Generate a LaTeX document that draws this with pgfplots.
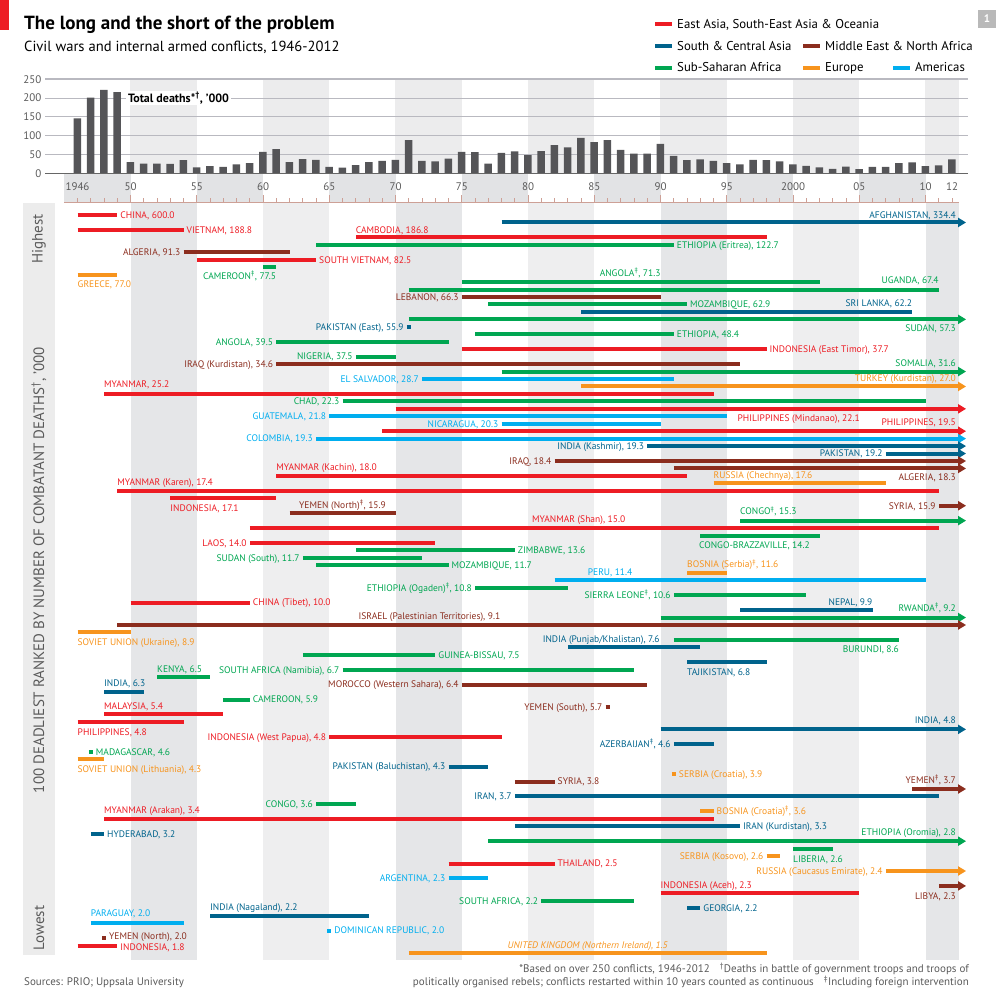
\documentclass[border=0pt]{standalone}
\usepackage{pgfplots}
\pgfplotsset{compat=1.18}
\usepackage{fontspec}
\setmainfont{PT Sans}
\usetikzlibrary{arrows.meta}
\definecolor{cEA}{RGB}{237,28,36}
\definecolor{cSCA}{RGB}{0,99,140}
\definecolor{cME}{RGB}{139,45,30}
\definecolor{cSSA}{RGB}{0,166,81}
\definecolor{cEU}{RGB}{247,148,29}
\definecolor{cAM}{RGB}{0,174,239}
\definecolor{bandA}{RGB}{229,230,232}
\definecolor{bandB}{RGB}{238,238,239}
\definecolor{bandT}{RGB}{236,236,237}
\definecolor{bandS}{RGB}{226,227,229}
\definecolor{barg}{RGB}{85,85,88}
\definecolor{gridc}{RGB}{185,185,192}
\definecolor{tickc}{RGB}{205,160,150}
\definecolor{txtg}{RGB}{90,90,90}
\tikzset{
  cb/.style={line width=4pt},
  EA/.style={cb,color=cEA}, SCA/.style={cb,color=cSCA}, ME/.style={cb,color=cME},
  SSA/.style={cb,color=cSSA}, EU/.style={cb,color=cEU}, AM/.style={cb,color=cAM},
  ar/.style={-{Triangle[length=8pt,width=9pt]}},
  lbl/.style={font=\fontsize{9.5}{10}\selectfont, inner sep=0pt, yshift=-3.3pt},
}
\newcommand\lR[4]{\node[lbl,text=#1,anchor=base west,xshift=3pt] at (axis cs:#2,#3) {#4};}
\newcommand\lL[4]{\node[lbl,text=#1,anchor=base east,xshift=-3pt] at (axis cs:#2,#3) {#4};}
\newcommand\lW[4]{\node[lbl,text=#1,anchor=base west] at (axis cs:#2,#3) {#4};}
\newcommand\lE[4]{\node[lbl,text=#1,anchor=base east] at (axis cs:#2,#3) {#4};}
\newcommand\lC[4]{\node[lbl,text=#1,anchor=base] at (axis cs:#2,#3) {#4};}
\newcommand\dg{\textsuperscript{‡}}
\begin{document}
\begin{tikzpicture}
\useasboundingbox (0pt,0pt) rectangle (1000pt,990pt);
% header
\fill[cEA] (0pt,960pt) rectangle (9pt,990pt);
\node[anchor=base west,inner sep=0pt] at (24pt,960pt) {\bfseries\fontsize{19}{21}\selectfont The long and the short of the problem};
\node[anchor=base west,inner sep=0pt] at (24pt,938.3pt) {\fontsize{14.6}{16}\selectfont Civil wars and internal armed conflicts, 1946-2012};
\fill[gray!55] (978pt,962pt) rectangle (996pt,980pt);
\node[text=white,font=\bfseries\fontsize{11}{12}\selectfont] at (987pt,971pt) {1};
% legend
\draw[cEA,line width=4pt] (655pt,966pt) -- (672pt,966pt);
\node[anchor=base west,inner sep=0pt] at (677pt,961.7pt) {\fontsize{12.8}{14}\selectfont East Asia, South-East Asia \& Oceania};
\draw[cSCA,line width=4pt] (655pt,944pt) -- (672pt,944pt);
\node[anchor=base west,inner sep=0pt] at (677pt,939.7pt) {\fontsize{12.8}{14}\selectfont South \& Central Asia};
\draw[cME,line width=4pt] (803pt,944pt) -- (820pt,944pt);
\node[anchor=base west,inner sep=0pt] at (825pt,939.7pt) {\fontsize{12.8}{14}\selectfont Middle East \& North Africa};
\draw[cSSA,line width=4pt] (655pt,922pt) -- (672pt,922pt);
\node[anchor=base west,inner sep=0pt] at (677pt,918pt) {\fontsize{12.8}{14}\selectfont Sub-Saharan Africa};
\draw[cEU,line width=4pt] (803pt,922pt) -- (820pt,922pt);
\node[anchor=base west,inner sep=0pt] at (825pt,918pt) {\fontsize{12.8}{14}\selectfont Europe};
\draw[cAM,line width=4pt] (893pt,922pt) -- (910pt,922pt);
\node[anchor=base west,inner sep=0pt] at (915pt,918pt) {\fontsize{12.8}{14}\selectfont Americas};
% strip under top chart
\foreach \a in {1945,1955,1965,1975,1985,1995,2005}
  \fill[bandS] ({77.5pt+(\a-1946)*13.25pt},788pt) rectangle ({77.5pt+(\a-1941)*13.25pt},816.7pt);
\draw[tickc,line width=0.8pt] (64pt,788pt) -- (959pt,788pt);
\foreach \i in {0,...,66} \draw[tickc,line width=0.7pt] ({77.5pt+\i*13.25pt},788pt) -- ++(0pt,4pt);
\foreach \i in {4,9,...,64} \draw[tickc,line width=0.7pt] ({77.5pt+\i*13.25pt},788pt) -- ++(0pt,7pt);
\foreach \p/\t in {77.5/1946,130.5/50,196.75/55,263/60,329.25/65,395.5/70,461.75/75,528/80,594.25/85,660.5/90,726.75/95,793/2000,859.25/05,925.5/10,952/12}
  \node[text=txtg,font=\fontsize{11}{12}\selectfont] at (\p pt,803pt) {\t};
% top chart
\begin{axis}[
  at={(45pt,816.7pt)}, anchor=south west, width=923pt, height=94pt, scale only axis,
  xmin=1943.55, xmax=2013.21, ymin=0, ymax=250, clip=false,
  axis line style={draw=none}, major tick length=0pt,
  xtick=\empty, ytick={0,50,100,150,200,250},
  yticklabel style={font=\fontsize{11}{12}\selectfont, text=txtg},
  /pgf/number format/assume math mode=true,
  ybar, bar width=7.5pt,
]
\foreach \a in {1950,1960,1970,1980,1990,2000} {\edef\tmp{\noexpand\fill[bandT] (axis cs:\a,0) rectangle (axis cs:\a+5,250);}\tmp}
\fill[bandT] (axis cs:2010,0) rectangle (axis cs:2012.5,250);
\draw[gridc,line width=0.9pt] (axis cs:1943.55,50) -- (axis cs:2013.21,50);
\draw[gridc,line width=0.9pt] (axis cs:1943.55,100) -- (axis cs:2013.21,100);
\draw[gridc,line width=0.9pt] (axis cs:1943.55,150) -- (axis cs:2013.21,150);
\draw[gridc,line width=0.9pt] (axis cs:1943.55,200) -- (axis cs:2013.21,200);
\draw[gridc,line width=1.6pt] (axis cs:1943.55,250) -- (axis cs:2013.21,250);
\addplot[fill=barg, draw=none] coordinates {
(1946,146) (1947,201) (1948,222) (1949,216) (1950,30) (1951,26) (1952,26) (1953,25) (1954,35)
(1955,16) (1956,19) (1957,17) (1958,24) (1959,27) (1960,57) (1961,64) (1962,30) (1963,38)
(1964,36) (1965,17) (1966,15) (1967,22) (1968,30) (1969,33) (1970,36) (1971,88) (1972,33)
(1973,32) (1974,39) (1975,57) (1976,56) (1977,26) (1978,54) (1979,58) (1980,48) (1981,59)
(1982,75) (1983,69) (1984,94) (1985,83) (1986,88) (1987,62) (1988,52) (1989,52) (1990,78)
(1991,46) (1992,35) (1993,37) (1994,33) (1995,27) (1996,24) (1997,36) (1998,35) (1999,32)
(2000,24) (2001,20) (2002,16) (2003,12) (2004,18) (2005,11) (2006,17) (2007,17) (2008,27)
(2009,29) (2010,19) (2011,21) (2012,37)};
\draw[black!60,line width=1pt] (axis cs:1943.55,0) -- (axis cs:2013.21,0);
\node[fill=white,inner xsep=2pt,inner ysep=1pt,anchor=west,font=\bfseries\fontsize{12}{14}\selectfont] at (axis cs:1949.65,200) {Total deaths*\textsuperscript{†}, ’000};
\end{axis}
% left strip
\fill[gray!15] (23pt,35pt) rectangle (55pt,787pt);
\node[rotate=90,text=txtg,font=\fontsize{15}{16}\selectfont] at (39pt,420pt) {100 DEADLIEST RANKED BY NUMBER OF COMBATANT DEATHS\textsuperscript{†}, ’000};
\node[rotate=90,text=txtg,font=\fontsize{15}{16}\selectfont] at (39pt,751pt) {Highest};
\node[rotate=90,text=txtg,font=\fontsize{15}{16}\selectfont] at (39pt,62pt) {Lowest};
% main chart
\begin{axis}[
  at={(64.25pt,787pt)}, anchor=north west, width=894.4pt, height=757pt, scale only axis,
  xmin=1945, xmax=2012.5, ymin=-0.61, ymax=100.94, y dir=reverse,
  hide axis, clip=false,
]
\fill[bandA] (axis cs:1950,-0.61) rectangle (axis cs:1955,100.94);
\fill[bandB] (axis cs:1960,-0.61) rectangle (axis cs:1965,100.94);
\fill[bandA] (axis cs:1970,-0.61) rectangle (axis cs:1975,100.94);
\fill[bandB] (axis cs:1980,-0.61) rectangle (axis cs:1985,100.94);
\fill[bandA] (axis cs:1990,-0.61) rectangle (axis cs:1995,100.94);
\fill[bandB] (axis cs:2000,-0.61) rectangle (axis cs:2005,100.94);
\fill[bandA] (axis cs:2010,-0.61) rectangle (axis cs:2012.5,100.94);
% bars
\addplot[EA] coordinates {(1946,1) (1949,1)};
\addplot[SCA,ar] coordinates {(1978,2) (2013.06,2)};
\addplot[EA] coordinates {(1946,3) (1954,3)};
\addplot[EA] coordinates {(1967,4) (1998,4)};
\addplot[SSA] coordinates {(1964,5) (1991,5)};
\addplot[ME] coordinates {(1954,6) (1962,6)};
\addplot[EA] coordinates {(1955,7) (1964,7)};
\addplot[SSA] coordinates {(1960,8) (1961,8)};
\addplot[EU] coordinates {(1946,9) (1949,9)};
\addplot[SSA] coordinates {(1975,10) (2002,10)};
\addplot[SSA] coordinates {(1971,11) (2011,11)};
\addplot[ME] coordinates {(1975,12) (1990,12)};
\addplot[SSA] coordinates {(1977,13) (1992,13)};
\addplot[SCA] coordinates {(1984,14) (2009,14)};
\addplot[SSA,ar] coordinates {(1971,15) (2013.06,15)};
\addplot[SCA] coordinates {(1970.85,16) (1971.15,16)};
\addplot[SSA] coordinates {(1976,17) (1991,17)};
\addplot[SSA] coordinates {(1961,18) (1974,18)};
\addplot[EA] coordinates {(1975,19) (1998,19)};
\addplot[SSA] coordinates {(1967,20) (1970,20)};
\addplot[ME] coordinates {(1961,21) (1996,21)};
\addplot[SSA,ar] coordinates {(1978,22) (2013.06,22)};
\addplot[AM] coordinates {(1972,23) (1991,23)};
\addplot[EU,ar] coordinates {(1984,24) (2013.06,24)};
\addplot[EA] coordinates {(1948,25) (1994,25)};
\addplot[SSA] coordinates {(1966,26) (2010,26)};
\addplot[EA,ar] coordinates {(1970,27) (2013.06,27)};
\addplot[AM] coordinates {(1965,28) (1995,28)};
\addplot[AM] coordinates {(1978,29) (1990,29)};
\addplot[EA,ar] coordinates {(1969,30) (2013.06,30)};
\addplot[AM,ar] coordinates {(1964,31) (2013.06,31)};
\addplot[SCA,ar] coordinates {(1989,32) (2013.06,32)};
\addplot[SCA,ar] coordinates {(2007,33) (2013.06,33)};
\addplot[ME,ar] coordinates {(1982,34) (2013.06,34)};
\addplot[ME,ar] coordinates {(1991,35) (2013.06,35)};
\addplot[EA] coordinates {(1961,36) (1992,36)};
\addplot[EU] coordinates {(1994,37) (2007,37)};
\addplot[EA] coordinates {(1949,38) (2011,38)};
\addplot[EA] coordinates {(1953,39) (1961,39)};
\addplot[ME,ar] coordinates {(2011,40) (2013.06,40)};
\addplot[ME] coordinates {(1962,41) (1970,41)};
\addplot[SSA,ar] coordinates {(1996,42) (2013.06,42)};
\addplot[EA] coordinates {(1959,43) (2011,43)};
\addplot[SSA] coordinates {(1993,44) (2002,44)};
\addplot[EA] coordinates {(1959,45) (1973,45)};
\addplot[SSA] coordinates {(1967,46) (1979,46)};
\addplot[SSA] coordinates {(1963,47) (1972,47)};
\addplot[SSA] coordinates {(1964,48) (1974,48)};
\addplot[EU] coordinates {(1992,49) (1995,49)};
\addplot[AM] coordinates {(1982,50) (2010,50)};
\addplot[SSA] coordinates {(1976,51) (1983,51)};
\addplot[SSA] coordinates {(1991,52) (2001,52)};
\addplot[EA] coordinates {(1950,53) (1959,53)};
\addplot[SCA] coordinates {(1996,54) (2006,54)};
\addplot[SSA,ar] coordinates {(1990,55) (2013.06,55)};
\addplot[ME,ar] coordinates {(1949,56) (2013.06,56)};
\addplot[EU] coordinates {(1946,57) (1950,57)};
\addplot[SSA] coordinates {(1991,58) (2008,58)};
\addplot[SCA] coordinates {(1983,59) (1993,59)};
\addplot[SSA] coordinates {(1963,60) (1973,60)};
\addplot[SCA] coordinates {(1992,61) (1998,61)};
\addplot[SSA] coordinates {(1966,62) (1988,62)};
\addplot[SSA] coordinates {(1952,63) (1956,63)};
\addplot[ME] coordinates {(1975,64) (1989,64)};
\addplot[SCA] coordinates {(1948,65) (1951,65)};
\addplot[SSA] coordinates {(1957,66) (1959,66)};
\addplot[ME] coordinates {(1985.85,67) (1986.15,67)};
\addplot[EA] coordinates {(1948,68) (1957,68)};
\addplot[EA] coordinates {(1946,69) (1954,69)};
\addplot[SCA,ar] coordinates {(1990,70) (2013.06,70)};
\addplot[EA] coordinates {(1965,71) (1978,71)};
\addplot[SCA] coordinates {(1991,72) (1994,72)};
\addplot[SSA] coordinates {(1946.85,73) (1947.15,73)};
\addplot[EU] coordinates {(1946,74) (1948,74)};
\addplot[SCA] coordinates {(1974,75) (1977,75)};
\addplot[EU] coordinates {(1990.85,76) (1991.15,76)};
\addplot[ME] coordinates {(1979,77) (1982,77)};
\addplot[ME,ar] coordinates {(2009,78) (2013.06,78)};
\addplot[SCA] coordinates {(1979,79) (2011,79)};
\addplot[SSA] coordinates {(1964,80) (1967,80)};
\addplot[EU] coordinates {(1993,81) (1994,81)};
\addplot[EA] coordinates {(1948,82) (1994,82)};
\addplot[SCA] coordinates {(1979,83) (1996,83)};
\addplot[SCA] coordinates {(1947,84) (1948,84)};
\addplot[SSA,ar] coordinates {(1977,85) (2013.06,85)};
\addplot[SSA] coordinates {(2000,86) (2003,86)};
\addplot[EU] coordinates {(1998,87) (1999,87)};
\addplot[EA] coordinates {(1974,88) (1982,88)};
\addplot[EU,ar] coordinates {(2007,89) (2013.06,89)};
\addplot[AM] coordinates {(1974,90) (1977,90)};
\addplot[ME,ar] coordinates {(2011,91) (2013.06,91)};
\addplot[EA] coordinates {(1990,92) (2005,92)};
\addplot[SSA] coordinates {(1981,93) (1988,93)};
\addplot[SCA] coordinates {(1992,94) (1993,94)};
\addplot[SCA] coordinates {(1956,95) (1968,95)};
\addplot[AM] coordinates {(1947,96) (1954,96)};
\addplot[AM] coordinates {(1964.85,97) (1965.15,97)};
\addplot[ME] coordinates {(1947.85,98) (1948.15,98)};
\addplot[EA] coordinates {(1946,99) (1949,99)};
\addplot[EU] coordinates {(1971,100) (1998,100)};
% labels
\lR{cEA}{1949}{1}{CHINA, 600.0}
\lE{cSCA}{2012.3}{1}{AFGHANISTAN, 334.4}
\lR{cEA}{1954}{3}{VIETNAM, 188.8}
\lW{cEA}{1967}{3}{CAMBODIA, 186.8}
\lR{cSSA}{1991}{5}{ETHIOPIA (Eritrea), 122.7}
\lL{cME}{1954}{6}{ALGERIA, 91.3}
\lR{cEA}{1964}{7}{SOUTH VIETNAM, 82.5}
\lE{cSSA}{1961}{9.25}{CAMEROON\dg, 77.5}
\lW{cEU}{1946}{10.25}{GREECE, 77.0}
\lW{cSSA}{1985.4}{8.8}{ANGOLA\dg, 71.3}
\lE{cSSA}{2011}{9.8}{UGANDA, 67.4}
\lL{cME}{1975}{12}{LEBANON, 66.3}
\lR{cSSA}{1992}{13}{MOZAMBIQUE, 62.9}
\lE{cSCA}{2009}{12.8}{SRI LANKA, 62.2}
\lE{cSSA}{2012.3}{16.25}{SUDAN, 57.3}
\lL{cSCA}{1970.85}{16}{PAKISTAN (East), 55.9}
\lR{cSSA}{1991}{17}{ETHIOPIA, 48.4}
\lL{cSSA}{1961}{18}{ANGOLA, 39.5}
\lR{cEA}{1998}{19}{INDONESIA (East Timor), 37.7}
\lL{cSSA}{1967}{20}{NIGERIA, 37.5}
\lL{cME}{1961}{21}{IRAQ (Kurdistan), 34.6}
\lE{cSSA}{2012.3}{20.85}{SOMALIA, 31.6}
\lL{cAM}{1972}{23}{EL SALVADOR, 28.7}
\lE{cEU}{2012.3}{22.85}{TURKEY (Kurdistan), 27.0}
\lW{cEA}{1948}{23.75}{MYANMAR, 25.2}
\lL{cSSA}{1966}{26}{CHAD, 22.3}
\lW{cEA}{1995.8}{28.3}{PHILIPPINES (Mindanao), 22.1}
\lL{cAM}{1965}{28}{GUATEMALA, 21.8}
\lL{cAM}{1978}{29}{NICARAGUA, 20.3}
\lE{cEA}{2012.3}{28.8}{PHILIPPINES, 19.5}
\lL{cAM}{1964}{31}{COLOMBIA, 19.3}
\lL{cSCA}{1989}{32}{INDIA (Kashmir), 19.3}
\lL{cSCA}{2007}{33}{PAKISTAN, 19.2}
\lL{cME}{1982}{34}{IRAQ, 18.4}
\lE{cME}{2012.3}{36.15}{ALGERIA, 18.3}
\lW{cEA}{1961}{34.8}{MYANMAR (Kachin), 18.0}
\lW{cEU}{1994}{35.9}{RUSSIA (Chechnya), 17.6}
\lW{cEA}{1949}{36.8}{MYANMAR (Karen), 17.4}
\lW{cEA}{1953}{40.3}{INDONESIA, 17.1}
\lL{cME}{2011}{40}{SYRIA, 15.9}
\lC{cME}{1966}{39.95}{YEMEN (North)\dg, 15.9}
\lW{cSSA}{1996}{40.8}{CONGO\dg, 15.3}
\lW{cEA}{1980.3}{41.8}{MYANMAR (Shan), 15.0}
\lW{cSSA}{1992.9}{45.3}{CONGO-BRAZZAVILLE, 14.2}
\lL{cEA}{1959}{45}{LAOS, 14.0}
\lR{cSSA}{1979}{46}{ZIMBABWE, 13.6}
\lL{cSSA}{1963}{47}{SUDAN (South), 11.7}
\lR{cSSA}{1974}{48}{MOZAMBIQUE, 11.7}
\lW{cEU}{1992}{47.9}{BOSNIA (Serbia)\dg, 11.6}
\lW{cAM}{1984.5}{48.95}{PERU, 11.4}
\lL{cSSA}{1976}{51}{ETHIOPIA (Ogaden)\dg, 10.8}
\lL{cSSA}{1991}{52}{SIERRA LEONE\dg, 10.6}
\lR{cEA}{1959}{53}{CHINA (Tibet), 10.0}
\lE{cSCA}{2006}{52.9}{NEPAL, 9.9}
\lE{cSSA}{2012.3}{53.75}{RWANDA\dg, 9.2}
\lW{cME}{1967.2}{54.8}{ISRAEL (Palestinian Territories), 9.1}
\lW{cEU}{1946}{58.25}{SOVIET UNION (Ukraine), 8.9}
\lE{cSSA}{2008}{59.3}{BURUNDI, 8.6}
\lW{cSCA}{1981.1}{57.9}{INDIA (Punjab/Khalistan), 7.6}
\lR{cSSA}{1973}{60}{GUINEA-BISSAU, 7.5}
\lW{cSCA}{1992}{62.3}{TAJIKISTAN, 6.8}
\lL{cSSA}{1966}{62}{SOUTH AFRICA (Namibia), 6.7}
\lW{cSSA}{1952}{61.9}{KENYA, 6.5}
\lL{cME}{1975}{64}{MOROCCO (Western Sahara), 6.4}
\lW{cSCA}{1948}{63.8}{INDIA, 6.3}
\lR{cSSA}{1959}{66}{CAMEROON, 5.9}
\lL{cME}{1985.85}{67}{YEMEN (South), 5.7}
\lW{cEA}{1948}{66.85}{MALAYSIA, 5.4}
\lW{cEA}{1946}{70.35}{PHILIPPINES, 4.8}
\lE{cSCA}{2012.3}{68.75}{INDIA, 4.8}
\lL{cEA}{1965}{71}{INDONESIA (West Papua), 4.8}
\lL{cSCA}{1991}{72}{AZERBAIJAN\dg, 4.6}
\lR{cSSA}{1947.15}{73}{MADAGASCAR, 4.6}
\lW{cEU}{1946}{75.35}{SOVIET UNION (Lithuania), 4.3}
\lL{cSCA}{1974}{75}{PAKISTAN (Baluchistan), 4.3}
\lR{cEU}{1991.15}{76}{SERBIA (Croatia), 3.9}
\lR{cME}{1982}{77}{SYRIA, 3.8}
\lE{cME}{2012.3}{76.8}{YEMEN\dg, 3.7}
\lL{cSCA}{1979}{79}{IRAN, 3.7}
\lL{cSSA}{1964}{80}{CONGO, 3.6}
\lR{cEU}{1994}{81}{BOSNIA (Croatia)\dg, 3.6}
\lW{cEA}{1948}{80.85}{MYANMAR (Arakan), 3.4}
\lR{cSCA}{1996}{83}{IRAN (Kurdistan), 3.3}
\lR{cSCA}{1948}{84}{HYDERABAD, 3.2}
\lE{cSSA}{2012.3}{83.8}{ETHIOPIA (Oromia), 2.8}
\lW{cSSA}{2000}{87.35}{LIBERIA, 2.6}
\lL{cEU}{1998}{87}{SERBIA (Kosovo), 2.6}
\lR{cEA}{1982}{88}{THAILAND, 2.5}
\lL{cEU}{2007}{89}{RUSSIA (Caucasus Emirate), 2.4}
\lL{cAM}{1974}{90}{ARGENTINA, 2.3}
\lE{cME}{2012.3}{92.35}{LIBYA, 2.3}
\lW{cEA}{1990}{90.85}{INDONESIA (Aceh), 2.3}
\lL{cSSA}{1981}{93}{SOUTH AFRICA, 2.2}
\lR{cSCA}{1993}{94}{GEORGIA, 2.2}
\lW{cSCA}{1956}{93.8}{INDIA (Nagaland), 2.2}
\lW{cAM}{1947}{94.7}{PARAGUAY, 2.0}
\lR{cAM}{1965.15}{97}{DOMINICAN REPUBLIC, 2.0}
\lR{cME}{1948.15}{97.8}{YEMEN (North), 2.0}
\lR{cEA}{1949}{99.25}{INDONESIA, 1.8}
\lC{cEU}{1984.5}{98.9}{\itshape UNITED KINGDOM (Northern Ireland), 1.5}
\end{axis}
% footer
\node[anchor=base west,inner sep=0pt,text=txtg] at (24pt,4.5pt) {\fontsize{11}{12}\selectfont Sources: PRIO; Uppsala University};
\node[anchor=base east,inner sep=0pt,text=txtg] at (969pt,17.5pt) {\fontsize{11}{12}\selectfont *Based on over 250 conflicts, 1946-2012\hspace{10pt}\textsuperscript{†}Deaths in battle of government troops and troops of};
\node[anchor=base east,inner sep=0pt,text=txtg] at (969pt,4.5pt) {\fontsize{11}{12}\selectfont politically organised rebels; conflicts restarted within 10 years counted as continuous\hspace{10pt}\textsuperscript{‡}Including foreign intervention};
\end{tikzpicture}
\end{document}
